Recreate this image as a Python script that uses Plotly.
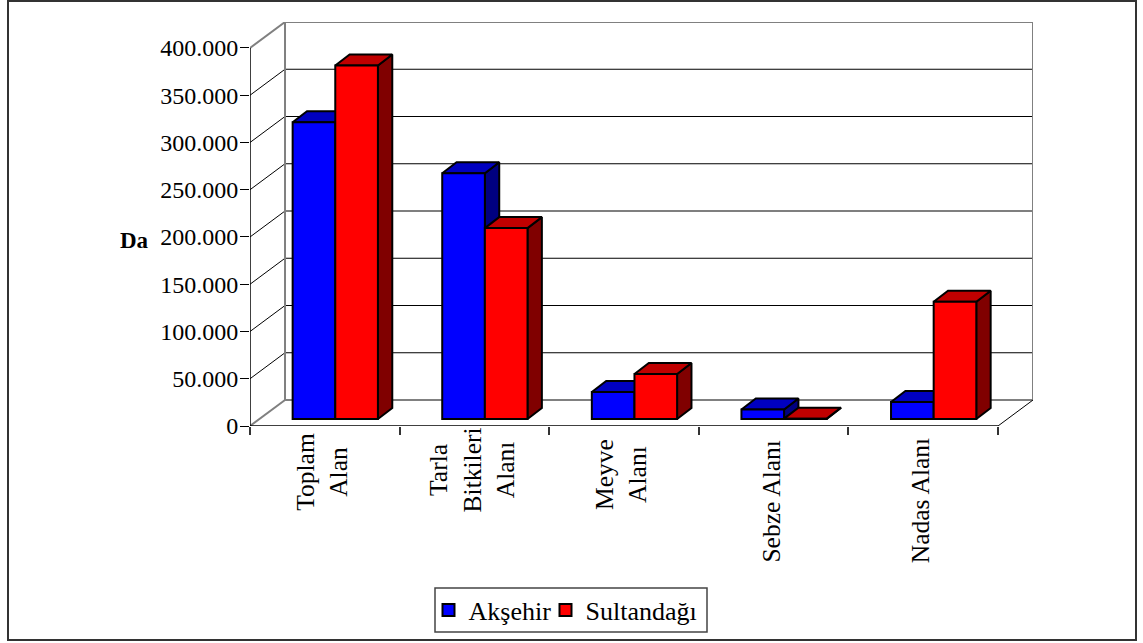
import plotly.graph_objects as go

# Source data (da)
categories = ["Toplam<br>Alan", "Tarla<br>Bitkileri<br>Alanı", "Meyve<br>Alanı", "Sebze Alanı", "Nadas Alanı"]
aksehir = [314000, 260000, 28500, 10000, 18000]
sultandagi = [374000, 202000, 47600, 400, 124000]
value_ticks = [0, 50000, 100000, 150000, 200000, 250000, 300000, 350000, 400000]
value_labels = ["0", "50.000", "100.000", "150.000", "200.000", "250.000", "300.000", "350.000", "400.000"]

# Oblique projection of the box, in axis units
WALL_DX = 0.234
WALL_DY = 27500
BAR_DX = 0.096
BAR_DY = 11640
BAR_LIFT = 7400
BAR_SHIFT = 0.07
BAR_W = 0.285
LABEL_SHIFT = -0.02

FONT = "Liberation Serif"
INK = "#000000"
WALL = "#808080"
XMAX = 4.5 + WALL_DX
YMAX = 400000 + WALL_DY

# Page layout measured in pixels, converted to paper fractions
PLOT_L, PLOT_R, PLOT_T, PLOT_B = 250, 1033, 22, 426
CATEGORY_LABEL_MID = [472, 470, 475, 501, 501]


def paper_x(px):
    return (px - PLOT_L) / (PLOT_R - PLOT_L)


def paper_y(py):
    return (PLOT_B - py) / (PLOT_B - PLOT_T)


xs = list(range(len(categories)))
fig = go.Figure()


def seg(x0, y0, x1, y1, color, width):
    fig.add_shape(type="line", xref="x", yref="y", x0=x0, y0=y0, x1=x1, y1=y1,
                  line=dict(color=color, width=width), layer="below")


# Outer frame and legend box
fig.add_shape(type="rect", xref="paper", yref="paper",
              x0=paper_x(8), x1=paper_x(1136), y0=paper_y(640), y1=paper_y(1),
              line=dict(color="#333333", width=2), layer="below")
fig.add_shape(type="rect", xref="paper", yref="paper",
              x0=paper_x(435), x1=paper_x(707), y0=paper_y(632), y1=paper_y(588),
              line=dict(color="#444444", width=1.5), fillcolor="#FFFFFF", layer="below")

# Gridlines along the back wall and the left wall
for v in value_ticks[1:-1]:
    seg(-0.5, v, -0.5 + WALL_DX, v + WALL_DY, INK, 1)
    seg(-0.5 + WALL_DX, v + WALL_DY, XMAX, v + WALL_DY, INK, 1.2)

# Wall outline
seg(-0.5, 0, -0.5 + WALL_DX, WALL_DY, WALL, 2)
seg(-0.5, 400000, -0.5 + WALL_DX, YMAX, WALL, 2)
seg(-0.5 + WALL_DX, WALL_DY, -0.5 + WALL_DX, YMAX, WALL, 2)
seg(-0.5 + WALL_DX, YMAX, XMAX, YMAX, WALL, 2)
seg(XMAX, WALL_DY, XMAX, YMAX, WALL, 2)
seg(-0.5 + WALL_DX, WALL_DY, XMAX, WALL_DY, WALL, 2)
seg(4.5, 0, XMAX, WALL_DY, INK, 1)

# Front axis lines
seg(-0.5, 0, -0.5, 400000, INK, 1.5)
seg(-0.5, 0, 4.5, 0, INK, 1.5)

series = [
    ("Akşehir", aksehir, -BAR_W, "#0000FF", "#0000C0", "#000080", "legend"),
    ("Sultandağı", sultandagi, 0.0, "#FF0000", "#C00000", "#800000", "legend2"),
]

layer = 1
for name, vals, off, front, top, side, legend_id in series:
    for x, v in zip(xs, vals):
        x0 = x + BAR_SHIFT + off
        x1 = x0 + BAR_W
        y1 = BAR_LIFT + v
        # Right-hand face of the bar
        fig.add_trace(go.Scatter(
            x=[x1, x1 + BAR_DX, x1 + BAR_DX, x1, x1],
            y=[BAR_LIFT, BAR_LIFT + BAR_DY, y1 + BAR_DY, y1, BAR_LIFT],
            mode="lines", fill="toself", fillcolor=side,
            line=dict(color=INK, width=2),
            showlegend=False, hoverinfo="skip", zorder=layer))
        # Top face of the bar
        fig.add_trace(go.Scatter(
            x=[x0, x1, x1 + BAR_DX, x0 + BAR_DX, x0],
            y=[y1, y1, y1 + BAR_DY, y1 + BAR_DY, y1],
            mode="lines", fill="toself", fillcolor=top,
            line=dict(color=INK, width=2),
            showlegend=False, hoverinfo="skip", zorder=layer))
    layer += 1
    # Front faces
    fig.add_trace(go.Bar(
        name=name, x=[x + BAR_SHIFT for x in xs], y=vals, base=BAR_LIFT,
        width=BAR_W, offset=off, legend=legend_id, showlegend=True,
        marker=dict(color=front, line=dict(color=INK, width=2)),
        zorder=layer))
    layer += 1

legend_style = dict(
    orientation="h", xanchor="left", yanchor="top",
    bgcolor="rgba(0,0,0,0)", borderwidth=0,
    font=dict(family=FONT, size=26, color=INK),
)

# Category labels, centred as blocks beneath the axis
label_notes = [
    dict(text=label, xref="x", yref="paper", x=x + LABEL_SHIFT, y=paper_y(mid),
         xanchor="center", yanchor="middle", textangle=-90, align="center",
         showarrow=False, font=dict(family=FONT, size=25.5, color=INK))
    for x, label, mid in zip(xs, categories, CATEGORY_LABEL_MID)
]

fig.update_layout(
    width=1143, height=643,
    margin=dict(l=PLOT_L, r=1143 - PLOT_R, t=PLOT_T, b=643 - PLOT_B, autoexpand=False),
    paper_bgcolor="#FFFFFF", plot_bgcolor="rgba(0,0,0,0)",
    barmode="overlay",
    font=dict(family=FONT, size=24, color=INK),
    xaxis=dict(
        range=[-0.5, XMAX], showgrid=False, zeroline=False, showline=False,
        tickmode="array", tickvals=[-0.5, 0.5, 1.5, 2.5, 3.5, 4.5], showticklabels=False,
        ticks="outside", ticklen=8, tickcolor="#333333", tickwidth=1.5,
    ),
    yaxis=dict(
        range=[0, YMAX], showgrid=False, zeroline=False, showline=False,
        tickmode="array", tickvals=value_ticks, ticktext=value_labels,
        ticks="outside", ticklen=9, tickcolor=INK, tickwidth=1, ticklabelstandoff=-3,
        tickfont=dict(family=FONT, size=24, color=INK),
    ),
    legend=dict(x=paper_x(428.5), y=paper_y(586.5), **legend_style),
    legend2=dict(x=paper_x(545.5), y=paper_y(586.5), **legend_style),
    annotations=label_notes + [dict(
        text="<b>Da</b>", xref="paper", yref="paper", x=paper_x(134), y=paper_y(240),
        xanchor="center", yanchor="middle", showarrow=False,
        font=dict(family=FONT, size=23, color=INK),
    )],
)

fig.write_html("out.html")
